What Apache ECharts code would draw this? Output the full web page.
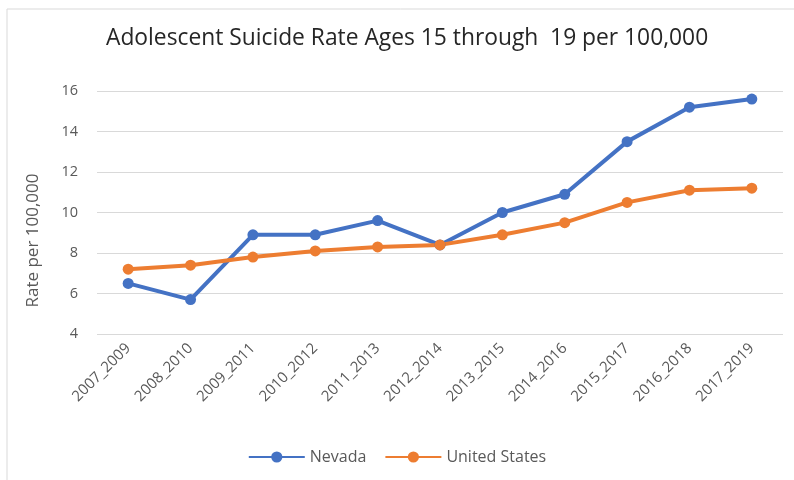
<!DOCTYPE html>
<html>
<head>
<meta charset="utf-8">
<script src="https://cdn.jsdelivr.net/npm/echarts@6/dist/echarts.min.js"></script>
<style>html,body{margin:0;padding:0;background:#fff;}#c{width:794px;height:480px;}</style>
</head>
<body>
<div id="c"></div>
<script>
const categories = ['2007_2009','2008_2010','2009_2011','2010_2012','2011_2013','2012_2014','2013_2015','2014_2016','2015_2017','2016_2018','2017_2019'];
const nevada = [6.5, 5.7, 8.9, 8.9, 9.6, 8.4, 10.0, 10.9, 13.5, 15.2, 15.6];
const unitedStates = [7.2, 7.4, 7.8, 8.1, 8.3, 8.4, 8.9, 9.5, 10.5, 11.1, 11.2];
const yTicks = [4, 6, 8, 10, 12, 14, 16];

const chart = echarts.init(document.getElementById('c'), null, {renderer: 'canvas'});
const font = 'Open Sans';
chart.setOption({
  backgroundColor: '#fff',
  animation: false,
  title: {
    text: 'Adolescent Suicide Rate Ages 15 through  19 per 100,000',
    left: 101, top: 22,
    textStyle: {fontFamily: font, fontSize: 22.8, fontWeight: 'normal', color: '#262626'}
  },
  graphic: [
    {type: 'line', shape: {x1: 7, y1: 9, x2: 794, y2: 9}, style: {stroke: '#d9d9d9', lineWidth: 1}},
    {type: 'line', shape: {x1: 7, y1: 9, x2: 7, y2: 480}, style: {stroke: '#d9d9d9', lineWidth: 1}}
  ],
  legend: {
    bottom: 10, left: 'center',
    itemWidth: 56, itemHeight: 14, itemGap: 18,
    textStyle: {fontFamily: font, fontSize: 16, color: '#595959'},
    data: ['Nevada', 'United States']
  },
  grid: {left: 97, right: 11, top: 91, bottom: 146, containLabel: false},
  xAxis: {
    type: 'category', data: categories, boundaryGap: true,
    axisLine: {show: false}, axisTick: {show: false},
    axisLabel: {rotate: 45, margin: 12, fontFamily: font, fontSize: 15, color: '#595959', interval: 0}
  },
  yAxis: {
    type: 'value', min: yTicks[0], max: yTicks[yTicks.length - 1], interval: 2,
    name: 'Rate per 100,000', nameLocation: 'middle', nameGap: 55,
    nameTextStyle: {fontFamily: font, fontSize: 17, color: '#595959', padding: [0, 56, 0, 0]},
    axisLine: {show: false}, axisTick: {show: false},
    axisLabel: {fontFamily: font, fontSize: 14.5, color: '#595959', margin: 19},
    splitLine: {lineStyle: {color: '#d9d9d9', width: 1}}
  },
  series: [
    {name: 'Nevada', type: 'line', data: nevada, color: '#4472C4',
     symbol: 'circle', symbolSize: 11, lineStyle: {width: 4}},
    {name: 'United States', type: 'line', data: unitedStates, color: '#ED7D31',
     symbol: 'circle', symbolSize: 11, lineStyle: {width: 4}}
  ]
});
</script>
</body>
</html>
